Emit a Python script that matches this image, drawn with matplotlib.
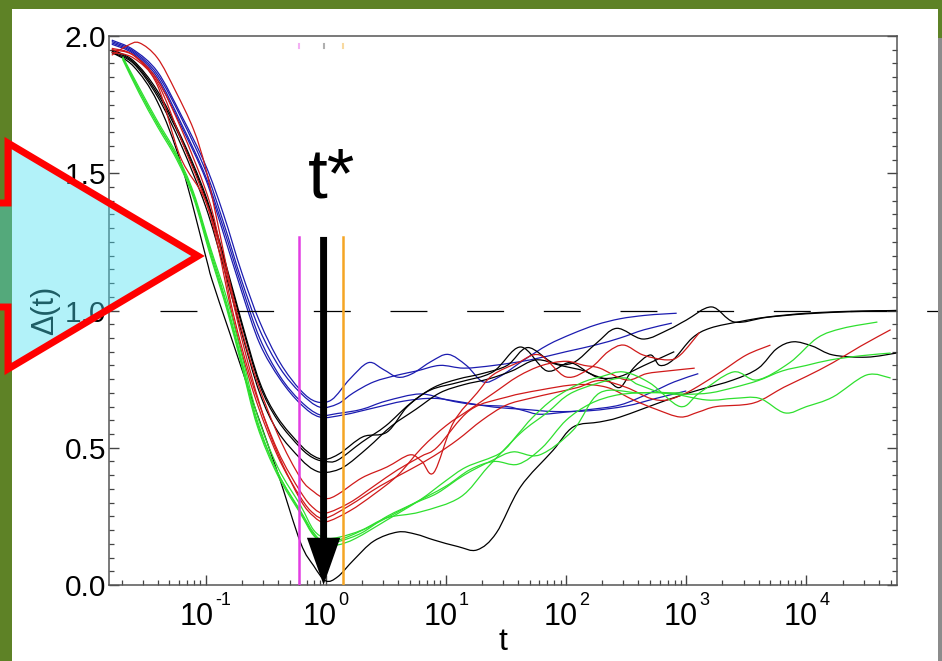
import numpy as np
import matplotlib
matplotlib.use("Agg")
import matplotlib.pyplot as plt
from matplotlib.patches import Polygon, FancyArrowPatch, Rectangle, PathPatch
from matplotlib.path import Path
from matplotlib.ticker import MultipleLocator, LogLocator, NullFormatter

plt.rcParams['font.family'] = ['Liberation Sans', 'DejaVu Sans']
plt.rcParams['lines.scale_dashes'] = False

# ---------------------------------------------------------------- data
# each curve: log10(t) positions and Delta(t) values
blue_curves = [
    ([-1.78, -1.6, -1.4, -1.2, -1.0, -0.85, -0.7, -0.55, -0.38, -0.21, -0.08, 0.05, 0.2, 0.355, 0.48, 0.6,
      0.72, 0.88, 1.02, 1.17, 1.31, 1.45, 1.65, 1.85, 2.05, 2.25, 2.45, 2.65, 2.8, 2.92],
     [1.985, 1.95, 1.87, 1.71, 1.53, 1.35, 1.14, 0.96, 0.81, 0.71, 0.668, 0.675, 0.75, 0.81, 0.785, 0.757,
      0.77, 0.815, 0.84, 0.80, 0.74, 0.76, 0.82, 0.875, 0.915, 0.948, 0.97, 0.982, 0.987, 0.99]),
    ([-1.78, -1.6, -1.4, -1.2, -1.0, -0.85, -0.7, -0.55, -0.38, -0.21, -0.05, 0.1, 0.23, 0.4, 0.6, 0.76,
      0.95, 1.15, 1.4, 1.7, 2.0, 2.25, 2.45, 2.65, 2.88],
     [1.98, 1.945, 1.86, 1.70, 1.51, 1.32, 1.11, 0.93, 0.79, 0.70, 0.648, 0.66, 0.70, 0.74, 0.765, 0.78,
      0.80, 0.79, 0.80, 0.82, 0.85, 0.875, 0.90, 0.93, 0.954]),
    ([-1.78, -1.6, -1.4, -1.2, -1.0, -0.85, -0.7, -0.55, -0.38, -0.21, -0.05, 0.1, 0.3, 0.5, 0.785, 1.0,
      1.14, 1.3, 1.51, 1.65, 1.78, 2.0, 2.17, 2.45, 2.7, 2.9, 3.1],
     [1.975, 1.94, 1.85, 1.68, 1.49, 1.30, 1.09, 0.90, 0.76, 0.67, 0.62, 0.625, 0.64, 0.67, 0.696, 0.675,
      0.663, 0.655, 0.65, 0.635, 0.622, 0.63, 0.638, 0.656, 0.70, 0.74, 0.77]),
    ([-1.78, -1.6, -1.4, -1.2, -1.0, -0.85, -0.7, -0.55, -0.38, -0.21, -0.05, 0.15, 0.4, 0.65, 0.9, 1.15,
      1.4, 1.65, 1.9, 2.2, 2.5, 2.75, 3.0],
     [1.97, 1.935, 1.84, 1.67, 1.48, 1.28, 1.07, 0.88, 0.75, 0.66, 0.612, 0.62, 0.645, 0.67, 0.68, 0.665,
      0.648, 0.64, 0.632, 0.635, 0.652, 0.68, 0.707]),
]

black_curves = [
    ([-1.78, -1.6, -1.4, -1.2, -1.0, -0.85, -0.7, -0.55, -0.4, -0.21, -0.1, 0.0, 0.12, 0.31, 0.51, 0.68,
      0.87, 1.12, 1.39, 1.62, 1.84, 2.03, 2.2, 2.34, 2.45, 2.56, 2.7, 2.78, 2.89, 3.05, 3.2, 3.45, 3.67,
      4.0, 4.35, 4.75],
     [1.95, 1.91, 1.80, 1.63, 1.42, 1.20, 0.96, 0.74, 0.61, 0.51, 0.47, 0.458, 0.48, 0.54, 0.557, 0.65,
      0.71, 0.74, 0.776, 0.867, 0.78, 0.81, 0.77, 0.747, 0.72, 0.79, 0.838, 0.80, 0.82, 0.90, 0.936, 0.96,
      0.976, 0.99, 0.997, 1.0]),
    ([-1.78, -1.6, -1.4, -1.2, -1.0, -0.85, -0.7, -0.55, -0.4, -0.21, -0.1, 0.0, 0.1, 0.3, 0.5, 0.7, 0.9,
      1.1, 1.3, 1.51, 1.68, 1.89, 2.06, 2.25, 2.42, 2.64, 2.85, 3.0, 3.21, 3.4, 3.67, 4.0, 4.4, 4.75],
     [1.945, 1.905, 1.79, 1.62, 1.41, 1.19, 0.95, 0.73, 0.60, 0.50, 0.462, 0.45, 0.455, 0.52, 0.58, 0.66,
      0.72, 0.75, 0.77, 0.80, 0.865, 0.81, 0.81, 0.88, 0.935, 0.896, 0.93, 0.965, 1.013, 0.958, 0.975,
      0.988, 0.996, 1.0]),
    ([-1.78, -1.6, -1.4, -1.2, -1.0, -0.85, -0.7, -0.55, -0.4, -0.21, -0.1, 0.0, 0.15, 0.35, 0.55, 0.75,
      0.95, 1.15, 1.35, 1.55, 1.75, 1.95, 2.15, 2.28, 2.45, 2.65, 2.9],
     [1.94, 1.90, 1.78, 1.60, 1.38, 1.16, 0.92, 0.70, 0.56, 0.46, 0.42, 0.41, 0.43, 0.50, 0.58, 0.64,
      0.70, 0.73, 0.75, 0.78, 0.82, 0.80, 0.78, 0.754, 0.76, 0.80, 0.85]),
    ([-1.78, -1.6, -1.4, -1.2, -1.0, -0.945, -0.8, -0.6, -0.4, -0.21, -0.1, 0.0, 0.1, 0.23, 0.4, 0.6,
      0.75, 0.9, 1.1, 1.26, 1.42, 1.62, 1.89, 2.06, 2.28, 2.45, 2.84, 3.1, 3.39, 3.6, 3.75, 3.89, 4.05,
      4.22, 4.5, 4.75],
     [1.94, 1.89, 1.76, 1.53, 1.20, 1.11, 0.92, 0.66, 0.41, 0.155, 0.07, 0.015, 0.03, 0.09, 0.16, 0.193,
      0.185, 0.164, 0.14, 0.128, 0.19, 0.357, 0.49, 0.576, 0.594, 0.612, 0.674, 0.71, 0.747, 0.79, 0.86,
      0.886, 0.87, 0.838, 0.83, 0.845]),
]

red_curves = [
    ([-1.78, -1.65, -1.55, -1.4, -1.25, -1.1, -1.0, -0.9, -0.77, -0.6, -0.4, -0.21, -0.1, 0.0, 0.1, 0.3,
      0.51, 0.7, 0.8, 0.9, 1.06, 1.26, 1.39, 1.6, 1.78, 2.0, 2.2, 2.35, 2.48, 2.64, 2.84, 2.95, 3.11],
     [1.93, 1.965, 1.975, 1.92, 1.80, 1.66, 1.52, 1.32, 1.05, 0.78, 0.55, 0.39, 0.34, 0.315, 0.33, 0.39,
      0.43, 0.474, 0.45, 0.41, 0.59, 0.70, 0.765, 0.81, 0.838, 0.758, 0.79, 0.85, 0.874, 0.838, 0.82,
      0.838, 0.92]),
    ([-1.78, -1.6, -1.4, -1.2, -1.0, -0.9, -0.77, -0.6, -0.4, -0.21, -0.1, 0.0, 0.2, 0.4, 0.6, 0.8, 0.93,
      1.2, 1.51, 1.78, 2.09, 2.34, 2.56, 2.75, 2.95, 3.1, 3.25, 3.56, 3.81, 4.0, 4.22, 4.45, 4.7],
     [1.95, 1.93, 1.84, 1.66, 1.44, 1.28, 0.99, 0.72, 0.49, 0.34, 0.28, 0.262, 0.30, 0.36, 0.42, 0.47,
      0.503, 0.637, 0.685, 0.71, 0.73, 0.72, 0.674, 0.64, 0.612, 0.63, 0.65, 0.663, 0.72, 0.76, 0.81,
      0.87, 0.93]),
    ([-1.78, -1.6, -1.4, -1.2, -1.0, -0.9, -0.77, -0.6, -0.4, -0.21, -0.1, 0.0, 0.2, 0.45, 0.7, 0.9, 1.1,
      1.3, 1.5, 1.7, 1.9, 2.1, 2.28, 2.5, 2.7, 2.84, 3.0, 3.14, 3.3, 3.5, 3.7],
     [1.94, 1.92, 1.83, 1.62, 1.40, 1.24, 0.97, 0.70, 0.47, 0.32, 0.26, 0.244, 0.29, 0.36, 0.42, 0.47,
      0.53, 0.60, 0.655, 0.68, 0.70, 0.72, 0.745, 0.72, 0.68, 0.674, 0.70, 0.735, 0.78, 0.838, 0.874]),
    ([-1.78, -1.6, -1.4, -1.21, -1.0, -0.85, -0.7, -0.55, -0.4, -0.21, -0.1, 0.0, 0.2, 0.4, 0.6, 0.8,
      1.0, 1.2, 1.4, 1.6, 1.8, 2.0, 2.15, 2.28, 2.5, 2.67, 2.85, 3.07],
     [1.955, 1.93, 1.82, 1.56, 1.40, 1.18, 0.90, 0.66, 0.48, 0.31, 0.25, 0.23, 0.27, 0.33, 0.40, 0.50,
      0.58, 0.64, 0.70, 0.76, 0.80, 0.815, 0.80, 0.79, 0.747, 0.77, 0.78, 0.79]),
]

green_curves = [
    ([-1.69, -1.55, -1.4, -1.24, -1.1, -0.96, -0.82, -0.7, -0.57, -0.4, -0.21, -0.1, 0.0, 0.1, 0.25,
      0.51, 0.785, 1.0, 1.17, 1.45, 1.6, 1.72, 1.9, 2.12, 2.3, 2.48, 2.7, 2.95, 3.11, 3.39, 3.59, 3.86,
      4.09, 4.3, 4.59],
     [1.92, 1.80, 1.68, 1.56, 1.42, 1.22, 1.02, 0.82, 0.60, 0.41, 0.27, 0.19, 0.148, 0.146, 0.17, 0.237,
      0.31, 0.38, 0.43, 0.48, 0.55, 0.61, 0.68, 0.735, 0.76, 0.776, 0.735, 0.65, 0.70, 0.776, 0.747,
      0.81, 0.90, 0.935, 0.958]),
    ([-1.69, -1.55, -1.4, -1.24, -1.1, -0.96, -0.82, -0.7, -0.57, -0.4, -0.21, -0.1, 0.0, 0.12, 0.3,
      0.51, 0.75, 0.93, 1.15, 1.39, 1.56, 1.78, 2.06, 2.28, 2.6, 2.84, 3.17, 3.4, 3.61, 3.82, 4.0, 4.22,
      4.5, 4.7],
     [1.915, 1.79, 1.67, 1.55, 1.41, 1.20, 1.0, 0.80, 0.58, 0.40, 0.26, 0.18, 0.153, 0.16, 0.19, 0.25,
      0.30, 0.335, 0.40, 0.455, 0.485, 0.474, 0.565, 0.70, 0.70, 0.70, 0.674, 0.68, 0.68, 0.627, 0.65,
      0.685, 0.765, 0.754]),
    ([-1.69, -1.55, -1.4, -1.24, -1.1, -0.96, -0.82, -0.7, -0.57, -0.4, -0.21, -0.1, 0.0, 0.12, 0.3,
      0.51, 0.785, 1.12, 1.35, 1.62, 1.84, 2.06, 2.45, 2.6, 2.8, 3.0, 3.2, 3.4, 3.6, 3.8, 4.0, 4.2, 4.45,
      4.7],
     [1.925, 1.81, 1.69, 1.57, 1.43, 1.23, 1.04, 0.84, 0.62, 0.43, 0.29, 0.20, 0.171, 0.175, 0.20, 0.245,
      0.266, 0.32, 0.43, 0.553, 0.627, 0.703, 0.754, 0.73, 0.70, 0.695, 0.70, 0.72, 0.745, 0.78, 0.80,
      0.82, 0.835, 0.845]),
    ([-1.69, -1.55, -1.4, -1.24, -1.1, -0.96, -0.82, -0.7, -0.57, -0.4, -0.21, -0.1, 0.0, 0.15, 0.4,
      0.7, 1.0, 1.2, 1.4, 1.6, 1.8, 2.0, 2.2, 2.4, 2.6, 2.8, 2.97],
     [1.92, 1.80, 1.68, 1.56, 1.42, 1.21, 1.01, 0.81, 0.59, 0.41, 0.265, 0.185, 0.16, 0.17, 0.22, 0.29,
      0.36, 0.42, 0.45, 0.44, 0.50, 0.60, 0.66, 0.69, 0.70, 0.70, 0.70]),
]

t_star = 0.96          # arrow position
t_left = 0.60          # magenta marker
t_right = 1.40         # orange marker
marker_top = 1.268     # upper end of the three markers
xtick_values = [1e-1, 1e0, 1e1, 1e2, 1e3, 1e4]
xtick_exponents = ['-1', '0', '1', '2', '3', '4']
ytick_values = [0.0, 0.5, 1.0, 1.5, 2.0]

COLORS = {'blue': '#1c1cb0', 'black': '#000000', 'red': '#d01a1a', 'green': '#2fe02f'}

# ---------------------------------------------------------------- figure
W, H = 942, 661
fig = plt.figure(figsize=(W / 100, H / 100), dpi=100)
fig.patch.set_facecolor('white')


def fx(x):
    return x / W


def fy(y):
    return 1 - y / H


def smooth_path(logt, vals):
    """Cubic Bezier path through the points (uniform Catmull-Rom handles)."""
    p = np.column_stack([logt, vals]).astype(float)
    n = len(p)
    verts, codes = [p[0]], [Path.MOVETO]
    for i in range(n - 1):
        p0 = p[i - 1] if i > 0 else p[i]
        p1, p2 = p[i], p[i + 1]
        p3 = p[i + 2] if i + 2 < n else p[i + 1]
        verts += [p1 + (p2 - p0) / 6.0, p2 - (p3 - p1) / 6.0, p2]
        codes += [Path.CURVE4] * 3
    verts = np.array(verts)
    verts[:, 0] = 10 ** verts[:, 0]
    return Path(verts, codes)


# slide frame
green = '#5e8226'
for (x0, y0, x1, y1, c) in [(0, 0, 12, H, green), (0, 0, W, 9, green),
                            (938, 0, W, 38, green), (938, 38, W, H, '#8c8c8c')]:
    fig.add_artist(Rectangle((fx(x0), fy(y1)), (x1 - x0) / W, (y1 - y0) / H,
                             transform=fig.transFigure, facecolor=c, edgecolor='none', zorder=1))

ax = fig.add_axes([fx(109), fy(585), (897 - 109) / W, (585 - 36) / H])
ax.set_xscale('log')
ax.set_xlim(10 ** -1.803, 10 ** 4.753)
ax.set_ylim(0, 2.0)

for name, group in [('blue', blue_curves), ('black', black_curves),
                    ('red', red_curves), ('green', green_curves)]:
    for logt, vals in group:
        ax.add_patch(PathPatch(smooth_path(logt, vals), facecolor='none',
                               edgecolor=COLORS[name], lw=0.9, zorder=2))

# reference level
ax.plot([10 ** -1.379, 10 ** 5.11], [1.0, 1.0], color='black', lw=0.9,
        dashes=(26.6, 28.6), clip_on=False, zorder=3)

# markers around t*
ax.plot([t_left, t_left], [0, marker_top], color='#e23ee2', lw=1.8, zorder=4)
ax.plot([t_right, t_right], [0, marker_top], color='#f5a524', lw=1.8, zorder=4)
for t, c in [(t_left, '#f4b0f4'), (t_star, '#b0b0b0'), (t_right, '#f8d9a0')]:
    ax.plot([t, t], [1.956, 1.972], color=c, lw=1.5, zorder=4)

arrow = FancyArrowPatch(posA=(t_star, marker_top), posB=(t_star, 0.0),
                        arrowstyle='simple,head_length=34,head_width=24,tail_width=5',
                        mutation_scale=1, shrinkA=0, shrinkB=0,
                        facecolor='black', edgecolor='none', zorder=6)
ax.add_patch(arrow)
ax.text(1.11, 1.413, 't*', ha='center', va='baseline', fontsize=51, zorder=6)

# axes styling
for s in ax.spines.values():
    s.set_color('#555555')
    s.set_linewidth(1.1)
ax.set_yticks(ytick_values)
ax.set_yticklabels(['%.1f' % v for v in ytick_values])
ax.yaxis.set_minor_locator(MultipleLocator(0.05))
ax.set_xticks(xtick_values)
ax.xaxis.set_major_formatter(NullFormatter())
ax.xaxis.set_minor_locator(LogLocator(base=10, subs=np.arange(2, 10), numticks=20))
ax.xaxis.set_minor_formatter(NullFormatter())
ax.tick_params(axis='both', which='both', direction='in', colors='#444444')
ax.tick_params(axis='y', which='major', length=7, width=1, left=True, right=True,
               labelsize=21.5, pad=2, labelcolor='black')
ax.tick_params(axis='y', which='minor', length=3.6, width=0.9, left=True, right=True)
ax.tick_params(axis='x', which='major', length=7, width=1, top=False)
ax.tick_params(axis='x', which='minor', length=3.6, width=0.9, top=False)

# decade labels: base "10" with a raised exponent, centred on the tick
base_fs, exp_fs = 22, 13
w_base = 2 * 0.556 * base_fs
for t, e in zip(xtick_values, xtick_exponents):
    w_exp = sum(0.333 if ch == '-' else 0.556 for ch in e) * exp_fs
    left = -(w_base + w_exp + 1) / 2
    ax.annotate('10', xy=(t, 0), xycoords=('data', 'axes fraction'),
                xytext=(left, -28.5), textcoords='offset points',
                ha='left', va='baseline', fontsize=base_fs)
    ax.annotate(e, xy=(t, 0), xycoords=('data', 'axes fraction'),
                xytext=(left + w_base + 1, -14.5), textcoords='offset points',
                ha='left', va='baseline', fontsize=exp_fs)

ax.set_xlabel('t', fontsize=23)
ax.xaxis.label.set_verticalalignment('baseline')
ax.xaxis.set_label_coords(0.5, (585 - 650) / 549)
ax.set_ylabel('Δ(t)', fontsize=22)
ax.yaxis.label.set_verticalalignment('center')
ax.yaxis.set_label_coords((45 - 109) / 788, 0.5)

# pointer shape on the left edge
pts = [(-30, 203), (8, 203), (8, 143), (198, 256), (8, 369), (8, 307), (-30, 307)]
fig.add_artist(Polygon([(fx(x), fy(y)) for x, y in pts], closed=True,
                       transform=fig.transFigure,
                       facecolor=(72 / 255, 224 / 255, 243 / 255, 0.42),
                       edgecolor='#ff0000', lw=5, joinstyle='miter', zorder=10))

fig.savefig('out.png', dpi=100, facecolor=fig.get_facecolor())
